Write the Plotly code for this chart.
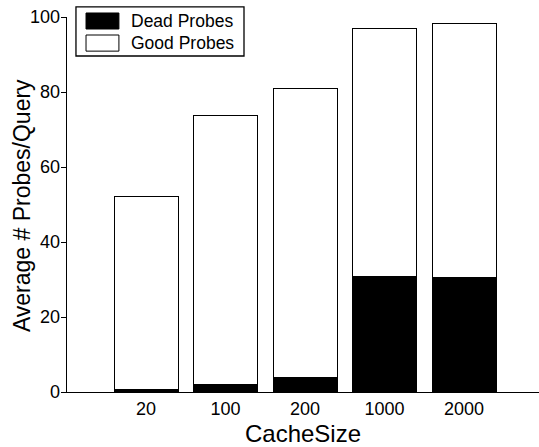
import plotly.graph_objects as go

# Cache sizes and average probes per query, split into dead and good probes
cache_sizes = ["20", "100", "200", "1000", "2000"]
dead_probes = [0.7, 2.1, 3.9, 30.9, 30.5]
good_probes = [51.5, 71.7, 77.1, 66.0, 67.8]
y_ticks = [0, 20, 40, 60, 80, 100]

series_names = ["Dead Probes", "Good Probes"]
series_fill = ["black", "white"]

FONT = "Liberation Sans, Arial, Helvetica, sans-serif"

fig = go.Figure()
for name, vals, fill in zip(series_names, [dead_probes, good_probes], series_fill):
    fig.add_trace(go.Bar(
        x=cache_sizes, y=vals, name=name,
        marker=dict(color=fill, line=dict(color="black", width=1)),
        showlegend=False,
    ))

# Boxed legend with wide rectangular swatches in the upper-left corner
fig.add_shape(type="rect", xref="paper", yref="paper",
              x0=0.019, x1=0.375, y0=0.896, y1=1.027,
              line=dict(color="black", width=1.3), fillcolor="white", layer="above")
swatch_rows = [(1.0107, 0.968, 0.989), (0.952, 0.909, 0.931)]
for (ya, yb, yt), name, fill in zip(swatch_rows, series_names, series_fill):
    fig.add_shape(type="rect", xref="paper", yref="paper",
                  x0=0.0403, x1=0.110, y0=yb, y1=ya,
                  line=dict(color="black", width=1), fillcolor=fill, layer="above")
    fig.add_annotation(xref="paper", yref="paper", x=0.131, y=yt,
                       text=name, showarrow=False, xanchor="left", yanchor="middle",
                       font=dict(family=FONT, size=17.5, color="black"))

# Y tick labels set snugly against the tick marks
for v in y_ticks:
    fig.add_annotation(xref="paper", yref="y", x=-0.0115, y=v,
                       text=str(v), showarrow=False, xanchor="right", yanchor="middle",
                       xshift=0, font=dict(family=FONT, size=18, color="black"))

# Vertical y-axis title placed beside the tick labels
fig.add_annotation(xref="paper", yref="paper", x=-0.0964, y=0.497,
                   text="Average # Probes/Query", textangle=-90, showarrow=False,
                   xanchor="center", yanchor="middle",
                   font=dict(family=FONT, size=23, color="black"))

fig.update_layout(
    width=539, height=447,
    margin=dict(l=67, r=0, t=17, b=55),
    barmode="stack", bargap=0.195,
    plot_bgcolor="white", paper_bgcolor="white",
    font=dict(family=FONT, color="black"),
)
fig.update_xaxes(
    type="category", range=[-0.994, 4.943],
    showline=True, linecolor="black", linewidth=1.3,
    ticks="", showgrid=False, zeroline=False,
    tickfont=dict(size=18, family=FONT),
    title=dict(text="CacheSize", font=dict(size=24, family=FONT), standoff=12),
)
fig.update_yaxes(
    range=[0, 100], tickvals=y_ticks, showticklabels=False,
    showline=True, linecolor="black", linewidth=1.3,
    ticks="outside", ticklen=5, tickcolor="black", tickwidth=1,
    showgrid=False, zeroline=False,
)

fig.write_html("out.html")
